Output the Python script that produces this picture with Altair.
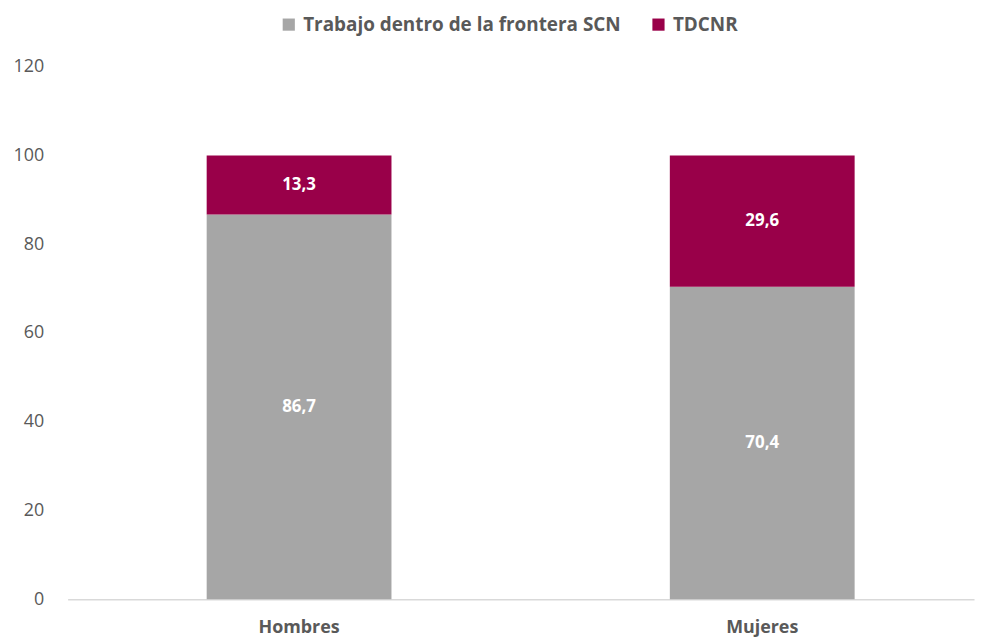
import altair as alt
import pandas as pd

categories = ["Hombres", "Mujeres"]
series = ["Trabajo dentro de la frontera SCN", "TDCNR"]
trabajo = [86.7, 70.4]
tdcnr = [13.3, 29.6]
colors = ["#A6A6A6", "#990049"]

rows = []
for i, c in enumerate(categories):
    rows.append({"cat": c, "serie": series[0], "value": trabajo[i], "ord": 0})
    rows.append({"cat": c, "serie": series[1], "value": tdcnr[i], "ord": 1})
df = pd.DataFrame(rows)

FONT = "Open Sans"
GRAY = "#595959"

base = alt.Chart(df).transform_stack(
    stack="value", groupby=["cat"], as_=["y0", "y1"], sort=[alt.SortField("ord", "ascending")]
).transform_calculate(
    mid="(datum.y0 + datum.y1) / 2",
    lbl="replace(format(datum.value, '.1f'), '.', ',')",
)

xenc = alt.X(
    "cat:N",
    sort=categories,
    title=None,
    scale=alt.Scale(paddingInner=0.601, paddingOuter=0.279, align=0.538),
    axis=alt.Axis(
        labelAngle=0, labelFont=FONT, labelFontSize=18, labelFontWeight="bold",
        labelColor=GRAY, labelPadding=19, ticks=False, domainColor="#D9D9D9",
        domainWidth=1.5,
    ),
)

bars = base.mark_bar().encode(
    x=xenc,
    y=alt.Y(
        "y0:Q", title=None,
        scale=alt.Scale(domain=[0, 120]),
        axis=alt.Axis(
            values=[0, 20, 40, 60, 80, 100, 120], grid=False, domain=False, ticks=False,
            labelFont=FONT, labelFontSize=18, labelColor=GRAY, labelPadding=24,
        ),
    ),
    y2="y1:Q",
    color=alt.Color(
        "serie:N",
        scale=alt.Scale(domain=series, range=colors),
        legend=alt.Legend(
            title=None, orient="none", direction="horizontal", legendX=213, legendY=-52,
            symbolType="square", symbolSize=150, symbolStrokeWidth=0,
            labelFont=FONT, labelFontSize=19, labelFontWeight="bold", labelColor=GRAY,
            labelLimit=0, columnPadding=28, labelOffset=5,
        ),
    ),
)

labels = base.mark_text(
    color="white", font=FONT, fontSize=17, fontWeight="bold", baseline="middle"
).encode(
    x=alt.X("cat:N", sort=categories),
    y=alt.Y("mid:Q"),
    text="lbl:N",
)

chart = alt.layer(bars, labels).properties(
    width=912, height=536, background="white"
).configure_view(stroke=None)

chart.save("out.html", embed_options={"renderer": "svg", "actions": False})
